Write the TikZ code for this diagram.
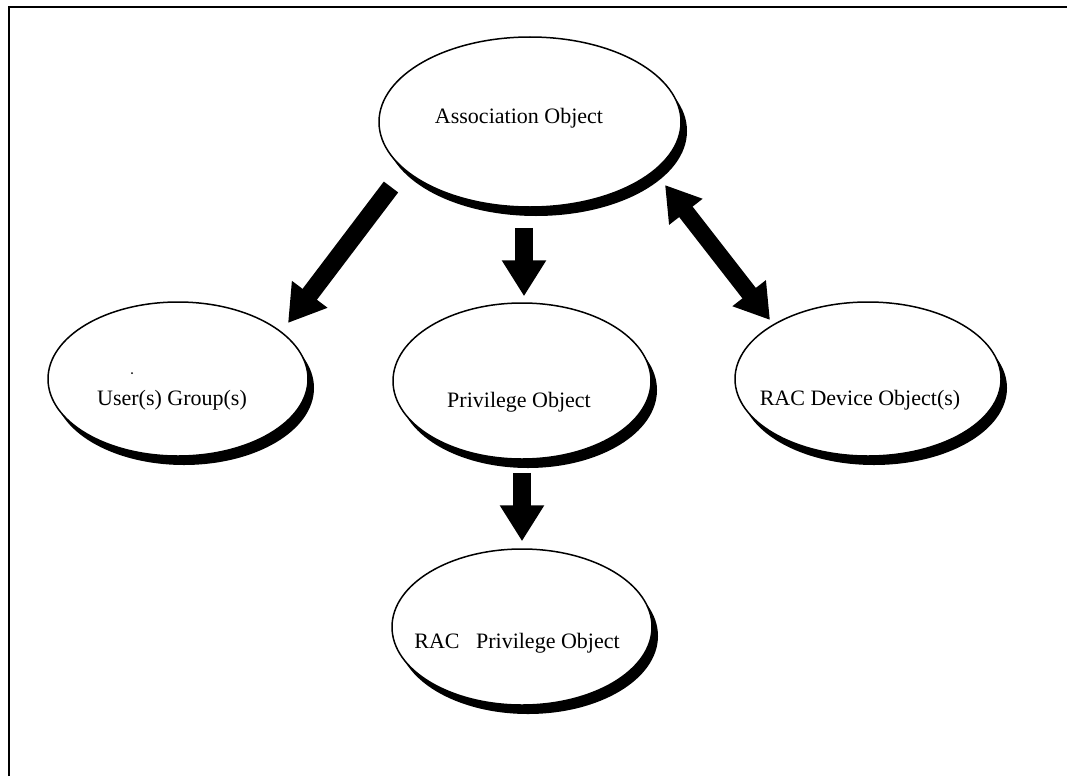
\documentclass[tikz,border=0pt]{standalone}
\usepackage{fontspec}
\setmainfont{Liberation Serif}
\usetikzlibrary{shapes.geometric,arrows.meta,shadows}
\begin{document}
\begin{tikzpicture}[x=1pt,y=-1pt,
  obj/.style={ellipse, draw=black, line width=1.5pt, fill=white, inner sep=0pt,
    drop shadow={shadow xshift=6pt, shadow yshift=-9pt, fill=black, opacity=1}},
  txt/.style={inner sep=0pt, font=\fontsize{22}{26}\selectfont},
  blk/.style={line width=18pt, -{Triangle[length=36pt,width=42pt]}},
  dblk/.style={line width=17pt, {Triangle[length=34pt,width=40pt]}-{Triangle[length=34pt,width=40pt]}}
]
\useasboundingbox (0,0) rectangle (1067,776);
\fill[white] (0,0) rectangle (1067,776);
% frame (cropped)
\draw[line width=2.8pt] (9,776) -- (9,7) -- (1067,7);

% ellipses
\node[obj, minimum width=302pt, minimum height=170pt] (assoc) at (530,122) {};
\node[obj, minimum width=260pt, minimum height=154pt] (user) at (178,379) {};
\node[obj, minimum width=258pt, minimum height=156pt] (priv) at (522,381) {};
\node[obj, minimum width=266pt, minimum height=154pt] (dev) at (868,379) {};
\node[obj, minimum width=260pt, minimum height=156pt] (racp) at (522,627) {};

% texts
\node[txt] (assocT) at (519,118) {Association Object};
\node[txt] (userT) at (172,400) {User(s) Group(s)};
\node[txt] (privT) at (519,402) {Privilege Object};
\node[txt] (devT) at (860,400) {RAC Device Object(s)};
\node[txt] (racpT) at (517,643) {RAC\ \ \ Privilege Object};
\fill (132,373) circle (1pt);

% connectors
\draw[blk] ([shift={(-139,65)}]assoc.center) -- ([shift={(110,-56)}]user.center);
\draw[blk] ([xshift=-6pt,yshift=-20pt]assoc.south) -- ([xshift=2pt,yshift=6pt]priv.north);
\draw[blk] ([yshift=-13pt]priv.south) -- ([yshift=7pt]racp.north);
\draw[dblk] ([shift={(135,63)}]assoc.center) -- ([shift={(-98,-59)}]dev.center);
\end{tikzpicture}
\end{document}
